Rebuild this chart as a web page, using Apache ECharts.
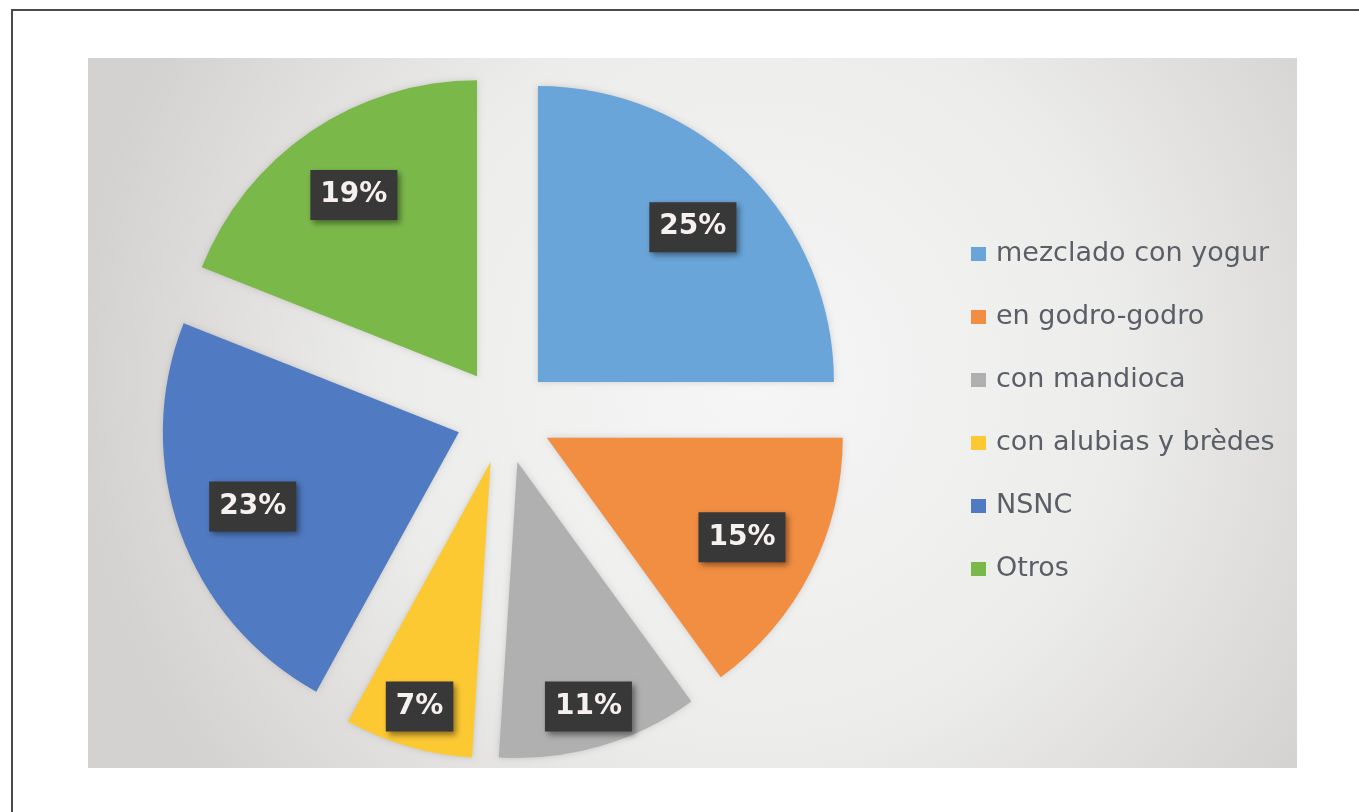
<!DOCTYPE html>
<html>
<head>
<meta charset="utf-8">
<title>Pie</title>
<script src="https://cdn.jsdelivr.net/npm/echarts@6/dist/echarts.min.js"></script>
<style>
    html, body { margin: 0; padding: 0; background: #ffffff; }
    #chart { width: 1359px; height: 812px; }
</style>
</head>
<body>
<div id="chart"></div>
<script>
// data
var categories = ["mezclado con yogur", "en godro-godro", "con mandioca", "con alubias y brèdes", "NSNC", "Otros"];
var percents = [25, 15, 11, 7, 23, 19];
var sliceColors = ["#6aa5d9", "#f28e41", "#b0b0b0", "#fdc933", "#507bc2", "#7bb84a"];

var pieCenter = [504, 416];
var pieRadius = 296;
var explode = 48;

// the two thin slices carry their labels nearer the rim
var outerLabelNames = ["con mandioca", "con alubias y brèdes"];

var pieData = categories.map(function(name, i) {
    return {
        name: name,
        value: percents[i],
        selected: true,
        itemStyle: { color: sliceColors[i] }
    };
});

function labelData(outer) {
    return categories.map(function(name, i) {
        var isOuter = outerLabelNames.indexOf(name) >= 0;
        return {
            name: name,
            value: percents[i],
            selected: true,
            label: { show: isOuter === outer }
        };
    });
}

var labelStyle = {
    show: true,
    position: "inside",
    formatter: "{c}%",
    fontFamily: "DejaVu Sans",
    fontWeight: "bold",
    fontSize: 28,
    lineHeight: 28,
    color: "#f6f1ee",
    backgroundColor: "#383838",
    padding: [11, 10],
    shadowColor: "rgba(0,0,0,0.45)",
    shadowBlur: 6,
    shadowOffsetX: 3,
    shadowOffsetY: 3
};

function labelSeries(innerFrac, outer) {
    return {
        type: "pie",
        center: pieCenter,
        radius: [pieRadius * innerFrac, pieRadius],
        startAngle: 90,
        clockwise: true,
        selectedMode: "multiple",
        selectedOffset: explode,
        silent: true,
        itemStyle: { color: "rgba(0,0,0,0)" },
        select: { itemStyle: { color: "rgba(0,0,0,0)" } },
        labelLine: { show: false },
        label: labelStyle,
        data: labelData(outer)
    };
}

var chart = echarts.init(document.getElementById("chart"));

var option = {
    animation: false,
    graphic: [{
        type: "rect",
        silent: true,
        z: -10,
        shape: { x: 88, y: 58, width: 1209, height: 710 },
        style: {
            fill: new echarts.graphic.RadialGradient(0.55, 0.45, 0.95, [
                { offset: 0, color: "#f6f6f6" },
                { offset: 0.55, color: "#ececeb" },
                { offset: 1, color: "#d4d2d0" }
            ])
        }
    }, {
        type: "polyline",
        silent: true,
        shape: { points: [[12, 812], [12, 10], [1359, 10]] },
        style: { stroke: "#4a4a4a", lineWidth: 2, fill: null }
    }],
    legend: {
        orient: "vertical",
        left: 966,
        top: 234,
        itemWidth: 15,
        itemHeight: 14,
        itemGap: 33,
        icon: "rect",
        selectedMode: false,
        data: categories,
        textStyle: {
            fontFamily: "DejaVu Sans",
            fontSize: 27,
            lineHeight: 30,
            color: "#5a5e66",
            padding: [0, 0, 0, 5]
        }
    },
    series: [{
        type: "pie",
        center: pieCenter,
        radius: [0, pieRadius],
        startAngle: 90,
        clockwise: true,
        selectedMode: "multiple",
        selectedOffset: explode,
        silent: true,
        label: { show: false },
        labelLine: { show: false },
        itemStyle: {
            shadowBlur: 6,
            shadowColor: "rgba(0,0,0,0.15)"
        },
        select: { itemStyle: { shadowBlur: 6, shadowColor: "rgba(0,0,0,0.15)" } },
        data: pieData
    },
    labelSeries(0.46, false),
    labelSeries(0.70, true)]
};

chart.setOption(option);
</script>
</body>
</html>
